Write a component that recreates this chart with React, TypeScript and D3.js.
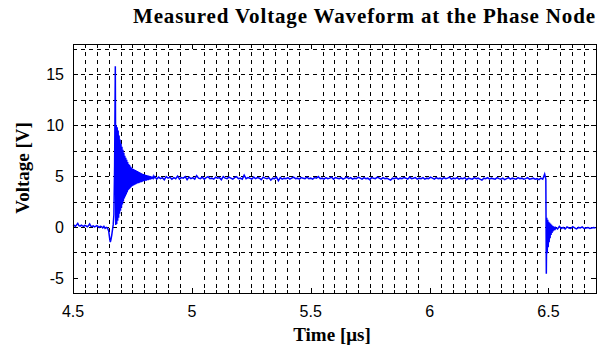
import React from 'react';
import * as d3 from 'd3';

const W = 603, H = 352;
const M = { left: 73, right: 596, top: 44, bottom: 293 };

const xDomain = [4.5, 6.7];
const yDomain = [-6.5, 18];
const xTicks = [4.5, 5, 5.5, 6, 6.5];
const xTickLabels = ['4.5', '5', '5.5', '6', '6.5'];
const yTicks = [-5, 0, 5, 10, 15];
const yTickLabels = ['-5', '0', '5', '10', '15'];
const xMinorStep = 0.05;
const yMinorStep = 2.5;

// pre-switching baseline (t from 4.500, step 0.005)
const preT0 = 4.5, preStep = 0.005;
const preV = [0.10, 0.15, 0.05, 0.20, 0.35, 0.12, 0.08, 0.18, 0.10, 0.05, 0.15, 0.10, 0.02, 0.12, 0.30, 0.08, 0.05, 0.10, 0.00, 0.06, 0.12, 0.05, -0.05, 0.05, 0.02, -0.10, 0.05, -0.15, -0.05, -0.10];

// rising edge
const edgePts: [number, number][] = [[4.650, -0.4], [4.654, -1.1], [4.657, -1.5], [4.660, -1.2], [4.663, -0.8], [4.666, -0.3], [4.669, 0.2], [4.672, 1.2], [4.675, 6.0], [4.678, 15.8], [4.679, 9.0], [4.680, 0.2]];

// ringing after rising edge (t from 4.682, step 0.002)
const ringT0 = 4.682, ringStep = 0.002;
const ringV = [10.0, 0.3, 9.8, 0.6, 9.5, 0.9, 9.0, 1.3, 8.6, 1.6, 8.2, 1.9, 7.9, 2.2, 7.6, 2.5, 7.3, 2.8, 7.0, 3.0,
  6.8, 3.2, 6.6, 3.4, 6.4, 3.6, 6.2, 3.7, 6.1, 3.8, 5.95, 3.9, 5.85, 4.0, 5.75, 4.05, 5.7, 4.1, 5.65, 4.15,
  5.6, 4.2, 5.55, 4.25, 5.5, 4.3, 5.45, 4.3, 5.4, 4.35, 5.35, 4.4, 5.3, 4.4, 5.25, 4.45, 5.2, 4.5, 5.2, 4.5,
  5.15, 4.55, 5.1, 4.55, 5.1, 4.6, 5.05, 4.6, 5.05, 4.65, 5.0, 4.65, 5.0, 4.7, 4.95, 4.7, 4.95, 4.75, 4.95, 4.8];

// on-state plateau (t from 4.844, step 0.008)
const flatT0 = 4.844, flatStep = 0.008;
const flatV = [
  4.95, 4.70, 4.90, 4.75, 4.85, 4.65, 4.95, 4.80, 4.90, 4.70, 4.85, 4.75, 5.00, 4.70, 4.85, 4.80, 4.95, 4.65, 4.90, 4.75,
  4.85, 4.70, 5.05, 4.80, 4.75, 4.90, 4.70, 4.85, 4.95, 4.75, 4.80, 4.70, 4.90, 4.80, 4.85, 4.65, 4.95, 4.80, 4.75, 4.90,
  4.80, 4.70, 4.85, 4.95, 4.75, 4.80, 4.70, 5.10, 4.75, 4.85, 4.80, 4.70, 4.90, 4.75, 4.85, 4.80, 4.65, 4.90, 4.80, 4.75,
  4.85, 4.60, 4.80, 4.75, 4.90, 4.55, 4.85, 4.70, 4.80, 4.75, 4.85, 4.70, 4.80, 4.90, 4.75, 4.80, 4.70, 4.85, 4.80, 4.75,
  4.90, 4.75, 4.80, 4.70, 4.85, 4.80, 4.95, 4.75, 4.80, 4.70, 4.85, 4.75, 4.80, 4.90, 4.70, 4.85, 4.80, 4.75, 4.85, 4.70,
  4.80, 4.90, 4.75, 4.85, 4.70, 4.80, 4.75, 4.90, 4.80, 4.70, 4.85, 4.75, 4.80, 4.65, 4.85, 4.80, 4.75, 4.90, 4.80, 4.70,
  4.85, 4.75, 4.80, 4.70, 4.60, 4.80, 4.75, 4.85, 4.70, 4.80, 4.75, 4.85, 4.80, 4.70, 4.90, 4.75, 4.80, 4.85, 4.70, 4.80,
  4.75, 4.85, 4.70, 4.80, 4.75, 4.90, 4.80, 4.70, 4.85, 4.75, 4.80, 4.70, 4.85, 4.75, 4.80, 4.90, 4.70, 4.80, 4.75, 4.85,
  4.70, 4.80, 4.75, 4.85, 4.65, 4.80, 4.75, 4.70, 4.85, 4.75, 4.80, 4.70, 4.60, 4.80, 4.75, 4.85, 4.70, 4.80, 4.75, 4.70,
  4.85, 4.75, 4.70, 4.80, 4.65, 4.75, 4.85, 4.70, 4.80, 4.75, 4.70, 4.85, 4.75, 4.80, 4.70, 4.75, 4.85, 4.70, 4.75, 4.80,
  4.70, 4.75, 4.65, 4.80, 4.70, 5.20];

// falling edge
const fallPts: [number, number][] = [[6.489, 4.7], [6.491, -4.6]];

// ringing after falling edge (t from 6.493, step 0.002)
const tailRingT0 = 6.493, tailRingStep = 0.002;
const tailRingV = [0.9, -2.6, 0.7, -2.0, 0.5, -1.5, 0.4, -1.1, 0.3, -0.8, 0.2, -0.6, 0.1, -0.45, 0.05, -0.35, 0.0, -0.3];

// off-state tail (t from 6.530, step 0.008)
const tailT0 = 6.530, tailStep = 0.008;
const tailV = [-0.05, -0.20, 0.05, -0.15, -0.05, -0.20, 0.00, -0.10, -0.15, 0.02, -0.10, -0.20, -0.05, -0.10, 0.00, -0.15, -0.10, -0.05, -0.15, -0.10, -0.05, -0.10];

const seq = (t0: number, step: number, vs: number[]): [number, number][] => vs.map((v, i) => [t0 + i * step, v]);

export default function App() {
  const x = d3.scaleLinear().domain(xDomain).range([M.left, M.right]);
  const y = d3.scaleLinear().domain(yDomain).range([M.bottom, M.top]);

  const pts: [number, number][] = [
    ...seq(preT0, preStep, preV),
    ...edgePts,
    ...seq(ringT0, ringStep, ringV),
    ...seq(flatT0, flatStep, flatV),
    ...fallPts,
    ...seq(tailRingT0, tailRingStep, tailRingV),
    ...seq(tailT0, tailStep, tailV),
  ];
  const line = d3.line<[number, number]>().x(d => x(d[0])).y(d => y(d[1]));

  const isMajorX = (v: number) => xTicks.some(t => Math.abs(t - v) < 1e-6);
  const xMinor = d3.range(xDomain[0] + xMinorStep, xDomain[1] - 1e-6, xMinorStep).filter(v => !isMajorX(v));
  const yMinor = d3.range(-5, 18, yMinorStep).filter(v => !yTicks.some(t => Math.abs(t - v) < 1e-6));
  const yGrid = d3.range(-2.5, 18, yMinorStep);

  const grid = { stroke: '#000', strokeWidth: 1, strokeDasharray: '4,4', shapeRendering: 'crispEdges' as const };
  const tickStyle = { stroke: '#000', strokeWidth: 1, shapeRendering: 'crispEdges' as const };
  const serif = "'Liberation Serif', 'Times New Roman', serif";
  const sans = "'Liberation Sans', Arial, sans-serif";

  return (
    <svg width={W} height={H} style={{ position: 'absolute', left: 0, top: 0, background: '#fff' }}>
      <rect x={0} y={0} width={W} height={H} fill="#fff" />
      <text x={364} y={23} textAnchor="middle" fontFamily={serif} fontWeight="bold" fontSize={21} textLength={462} lengthAdjust="spacing">Measured Voltage Waveform at the Phase Node</text>

      {/* grid */}
      {xMinor.map((v, i) => (
        <line key={'gx' + i} x1={Math.round(x(v)) + 0.5} x2={Math.round(x(v)) + 0.5} y1={M.top} y2={M.bottom} {...grid} />
      ))}
      {yGrid.map((v, i) => (
        <line key={'gy' + i} x1={M.left} x2={M.right} y1={Math.round(y(v)) + 0.5} y2={Math.round(y(v)) + 0.5} {...grid} />
      ))}

      {/* ticks */}
      {xTicks.map((v, i) => (
        <g key={'xt' + i}>
          <line x1={Math.round(x(v)) + 0.5} x2={Math.round(x(v)) + 0.5} y1={M.bottom} y2={M.bottom - 5} {...tickStyle} />
          <line x1={Math.round(x(v)) + 0.5} x2={Math.round(x(v)) + 0.5} y1={M.top} y2={M.top + 5} {...tickStyle} />
          <text x={x(v)} y={317} textAnchor="middle" fontFamily={sans} fontSize={16}>{xTickLabels[i]}</text>
        </g>
      ))}
      {xMinor.map((v, i) => (
        <g key={'xm' + i}>
          <line x1={Math.round(x(v)) + 0.5} x2={Math.round(x(v)) + 0.5} y1={M.bottom} y2={M.bottom - 3} {...tickStyle} />
          <line x1={Math.round(x(v)) + 0.5} x2={Math.round(x(v)) + 0.5} y1={M.top} y2={M.top + 3} {...tickStyle} />
        </g>
      ))}
      {yTicks.map((v, i) => (
        <g key={'yt' + i}>
          <line x1={M.left} x2={M.left + 5} y1={Math.round(y(v)) + 0.5} y2={Math.round(y(v)) + 0.5} {...tickStyle} />
          <line x1={M.right} x2={M.right - 5} y1={Math.round(y(v)) + 0.5} y2={Math.round(y(v)) + 0.5} {...tickStyle} />
          <text x={64} y={y(v)} dy="0.36em" textAnchor="end" fontFamily={sans} fontSize={16}>{yTickLabels[i]}</text>
        </g>
      ))}
      {yMinor.map((v, i) => (
        <g key={'ym' + i}>
          <line x1={M.left} x2={M.left + 3} y1={Math.round(y(v)) + 0.5} y2={Math.round(y(v)) + 0.5} {...tickStyle} />
          <line x1={M.right} x2={M.right - 3} y1={Math.round(y(v)) + 0.5} y2={Math.round(y(v)) + 0.5} {...tickStyle} />
        </g>
      ))}

      {/* waveform */}
      <path d={line(pts) || ''} fill="none" stroke="#0000ff" strokeWidth={1.5} strokeLinejoin="miter" />

      {/* frame */}
      <rect x={M.left + 0.5} y={M.top + 0.5} width={M.right - M.left} height={M.bottom - M.top} fill="none" stroke="#000" strokeWidth={1} shapeRendering="crispEdges" />

      <text x={332} y={341} textAnchor="middle" fontFamily={serif} fontWeight="bold" fontSize={19}>Time [μs]</text>
      <text transform="translate(29,168) rotate(-90)" textAnchor="middle" fontFamily={serif} fontWeight="bold" fontSize={19}>Voltage [V]</text>
    </svg>
  );
}
